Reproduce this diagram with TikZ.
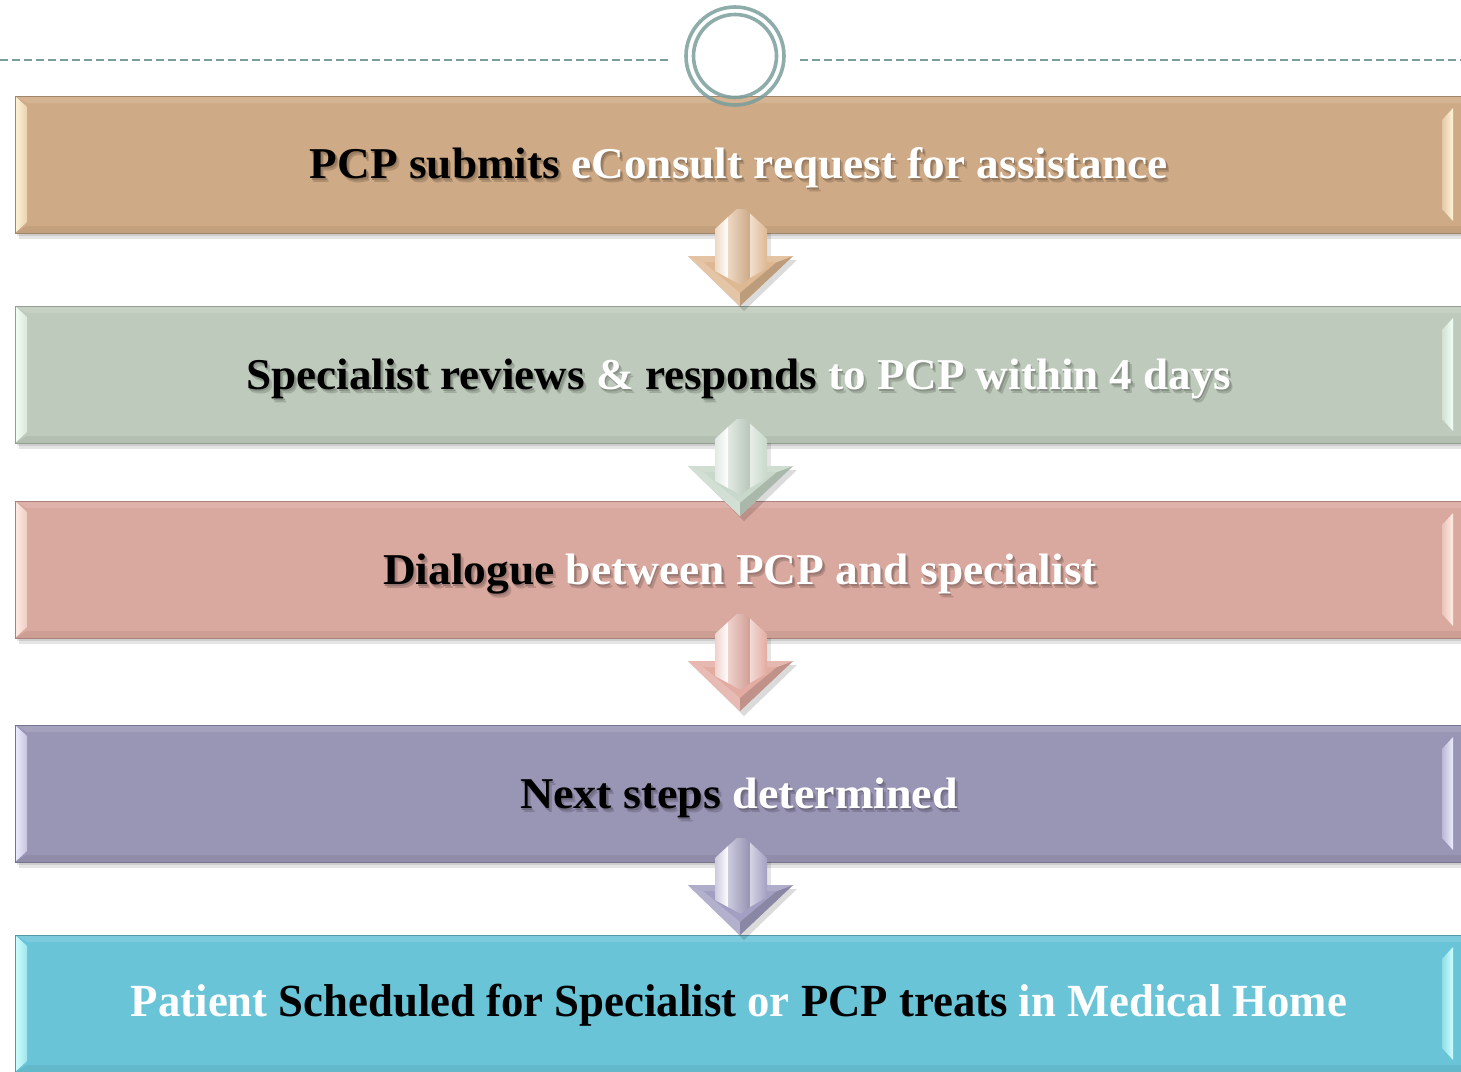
\documentclass[tikz,border=0pt]{standalone}
\usepackage{fontspec}
\setmainfont{Liberation Serif}
\usepackage{graphicx}

% palette
\definecolor{ringc}{RGB}{122,158,156}
\definecolor{tanc}{RGB}{207,170,134}
\definecolor{tanhl}{RGB}{255,244,214}
\definecolor{tana}{RGB}{222,184,146}
\definecolor{sagec}{RGB}{190,203,188}
\definecolor{sagehl}{RGB}{242,255,244}
\definecolor{sagea}{RGB}{200,216,202}
\definecolor{pinkc}{RGB}{217,168,158}
\definecolor{pinkhl}{RGB}{255,236,228}
\definecolor{pinka}{RGB}{226,172,162}
\definecolor{lavc}{RGB}{153,149,181}
\definecolor{lavhl}{RGB}{236,236,255}
\definecolor{lava}{RGB}{162,159,194}
\definecolor{cyanc}{RGB}{105,196,215}
\definecolor{cyanhl}{RGB}{205,255,255}

\colorlet{tb}{black}
\colorlet{tw}{white}
\newcommand\B[1]{\textcolor{tb}{#1}}
\newcommand\W[1]{\textcolor{tw}{#1}}

% label stretched to width #2 with a soft shadow tinted from colour #1
\newcommand\shadowtext[3]{%
  \makebox[0pt][l]{\hspace*{3pt}\raisebox{-4pt}{\colorlet{tb}{#1!84!black}\colorlet{tw}{#1!84!black}\resizebox{#2pt}{\height}{#3}}}%
  \makebox[0pt][l]{\hspace*{1.5pt}\raisebox{-2.5pt}{\colorlet{tb}{#1!72!black}\colorlet{tw}{#1!72!black}\resizebox{#2pt}{\height}{#3}}}%
  \resizebox{#2pt}{\height}{#3}}

\tikzset{
  steptxt/.style={anchor=base, inner sep=0pt, font=\fontsize{44}{50}\selectfont\bfseries},
}

% one bevelled process band: #1 top edge, #2 fill, #3 highlight
\newcommand\bevelband[3]{%
  \begin{scope}[shift={(0,#1)}]
    \fill[black,opacity=0.10] (19,5) rectangle (1480,143);
    \fill[black,opacity=0.10] (17,3) rectangle (1480,140);
    \fill[#2] (15,0) rectangle (1480,137);
    \fill[#2!88!white] (15,0) -- (1480,0) -- (1468,7) -- (27,7) -- cycle;
    \fill[#2!94!black] (15,137) -- (1480,137) -- (1468,130) -- (27,130) -- cycle;
    \shade[left color=#3, right color=#2!45!#3] (15,0) -- (27,11) -- (27,126) -- (15,137) -- cycle;
    \shade[left color=#2!60!#3, right color=#3] (1442,24) -- (1453,12) -- (1453,125) -- (1442,113) -- cycle;
    \draw[#2!78!black, line width=0.8] (15,0) rectangle (1480,137);
  \end{scope}}

% bevelled down arrow below a band whose bottom edge is #1, colour #2
\newcommand\flowarrow[2]{%
  \begin{scope}[shift={(0,#1)}]
    \fill[black,opacity=0.14] (692,27) -- (797,27) -- (744,78) -- cycle;
    \fill[black,opacity=0.10] (719,0) rectangle (771,40);
    % head facets
    \fill[#2] (688,23) -- (793,23) -- (740,73) -- cycle;
    \fill[#2!82!white] (688,23) -- (740,73) -- (740,60) -- (703,29) -- cycle;
    \fill[#2!85!black] (793,23) -- (740,73) -- (740,60) -- (777,29) -- cycle;
    \fill[#2!85!white] (688,23) -- (793,23) -- (777,29) -- (703,29) -- cycle;
    % shaft faces
    \shade[left color=#2!55!white, right color=white] (715,-4) -- (728,-16) -- (728,45) -- (715,38) -- cycle;
    \shade[left color=#2!55!white, right color=#2!92!black] (728,-16) -- (737,-24) -- (745,-24) -- (750,-19.5) -- (750,45) -- (741,52) -- (728,45) -- cycle;
    \shade[left color=#2!45!white, right color=#2] (750,-19.5) -- (767,-4) -- (767,35) -- (750,45) -- cycle;
  \end{scope}}

\begin{document}
\begin{tikzpicture}[x=1pt,y=-1pt]
  \useasboundingbox (0,0) rectangle (1461,1071);
  \clip (0,0) rectangle (1461,1071);
  \fill[white] (0,0) rectangle (1461,1071);

  % dashed rule broken by the ring
  \draw[ringc, line width=1.3, dash pattern=on 8pt off 4pt] (0,60) -- (668,60);
  \draw[ringc, line width=1.3, dash pattern=on 8pt off 4pt] (800,60) -- (1461,60);

  % process bands
  \bevelband{96}{tanc}{tanhl}
  \bevelband{306}{sagec}{sagehl}
  \bevelband{501}{pinkc}{pinkhl}
  \bevelband{725}{lavc}{lavhl}
  \bevelband{935}{cyanc}{cyanhl}

  % ring
  \draw[ringc, line width=3.6, opacity=0.85] (735,56) circle[radius=49];
  \draw[ringc, line width=3.6, opacity=0.85] (735,56) circle[radius=41.5];

  % arrows between bands
  \flowarrow{233}{tana}
  \flowarrow{443}{sagea}
  \flowarrow{638}{pinka}
  \flowarrow{862}{lava}

  % labels
  \node[steptxt] (t1) at (739,178) {\shadowtext{tanc}{858}{\B{PCP submits} \W{eConsult request for assistance}}};
  \node[steptxt] (t2) at (739,389) {\shadowtext{sagec}{985}{\B{Specialist reviews} \W{\&} \B{responds} \W{to PCP within 4 days}}};
  \node[steptxt] (t3) at (740,584) {\shadowtext{pinkc}{714}{\B{Dialogue} \W{between PCP and specialist}}};
  \node[steptxt] (t4) at (739,808) {\shadowtext{lavc}{438}{\B{Next steps} \W{determined}}};
  \node[steptxt, font=\fontsize{46}{50}\selectfont\bfseries] (t5) at (739,1016) {\resizebox{1216pt}{\height}{\W{Patient} \B{Scheduled for Specialist} \W{or} \B{PCP treats} \W{in Medical Home}}};
\end{tikzpicture}
\end{document}
